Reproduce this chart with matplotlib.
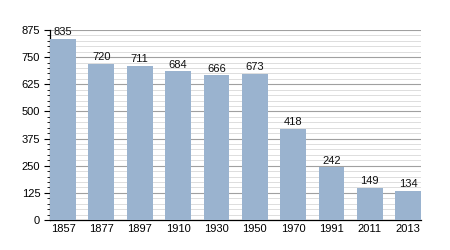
import matplotlib
matplotlib.use("Agg")
import matplotlib.pyplot as plt
from matplotlib.ticker import MultipleLocator

years = ["1857", "1877", "1897", "1910", "1930", "1950", "1970", "1991", "2011", "2013"]
values = [835, 720, 711, 684, 666, 673, 418, 242, 149, 134]
yticks = [0, 125, 250, 375, 500, 625, 750, 875]

plt.rcParams['font.family'] = ['Liberation Sans', 'DejaVu Sans']
fig = plt.figure(figsize=(4.5, 2.5), dpi=100)
ax = fig.add_axes([0.111, 0.12, 0.825, 0.76])

x = list(range(len(years)))
bars = ax.bar(x, values, width=0.67, color="#9ab3cf", zorder=3)
for xi, v in zip(x, values):
    ax.text(xi, v + 8, str(v), ha="center", va="bottom", fontsize=8, color="#111111", zorder=4)

ax.set_xlim(-0.34, len(years) - 1 + 0.34)
ax.set_ylim(0, 875)
ax.set_xticks(x)
ax.set_xticklabels(years, fontsize=8)
ax.set_yticks(yticks)
ax.set_yticklabels([str(t) for t in yticks], fontsize=8)
ax.yaxis.set_minor_locator(MultipleLocator(25))
ax.tick_params(axis="x", length=0, pad=3)
ax.tick_params(axis="y", which="major", length=4, width=0.8, pad=3)
ax.tick_params(axis="y", which="minor", length=2, width=0.6)
ax.grid(axis="y", which="major", color="#a0a0a0", linewidth=0.8, zorder=0)
ax.grid(axis="y", which="minor", color="#d8d8d8", linewidth=0.6, zorder=0)
ax.set_axisbelow(True)
for s in ["top", "right"]:
    ax.spines[s].set_visible(False)
ax.spines["left"].set_linewidth(0.9)
ax.spines["bottom"].set_linewidth(0.9)

fig.savefig("out.png", dpi=100)
